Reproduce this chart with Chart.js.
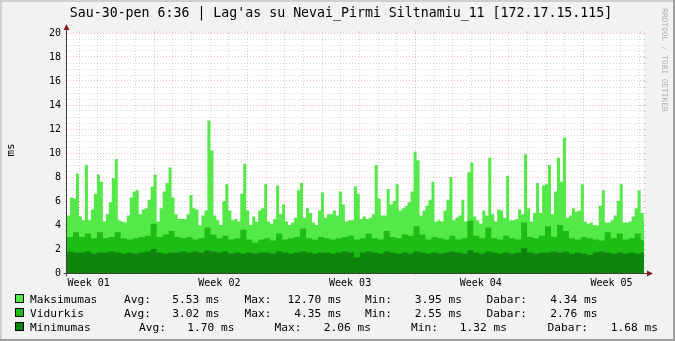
<!DOCTYPE html>
<html>
<head>
<meta charset="utf-8">
<script src="https://cdn.jsdelivr.net/npm/chart.js@4.4.0/dist/chart.umd.min.js"></script>
<style>
    html, body { margin: 0; padding: 0; background: #f2f2f2; }
    canvas { display: block; }
</style>
</head>
<body>
<canvas id="rrdChart" width="675" height="341"></canvas>
<script>
// Lag'as (ms), one value per time step
const maksimumas = [
    4.8, 6.3, 6.2, 8.3, 4.7, 4.4, 9.0, 4.4, 5.3, 6.6, 8.2, 7.6, 4.3, 4.9, 5.9, 7.9, 9.5, 4.4,
    4.3, 4.2, 4.8, 6.3, 6.8, 6.9, 4.9, 5.3, 5.4, 6.1, 7.2, 8.2, 4.3, 5.4, 6.8, 7.5, 8.8, 6.3, 4.9, 4.5, 4.5,
    4.5, 4.9, 6.5, 5.4, 5.3, 3.95, 4.8, 5.2, 12.7, 10.2, 4.8, 4.4, 4.0, 6.0, 7.4, 5.2, 4.4, 4.5, 4.3, 6.6,
    9.1, 5.2, 4.0, 4.7, 4.3, 5.2, 5.4, 7.4, 4.3, 4.1, 4.5, 7.3, 4.9, 5.7, 4.3, 4.0, 4.2, 4.6, 6.9,
    7.5, 4.6, 5.4, 5.0, 4.2, 4.0, 5.2, 6.7, 4.6, 4.9, 4.9, 5.2, 4.8, 6.8, 5.7, 4.3, 4.4, 4.4, 7.2, 6.6,
    4.5, 4.7, 4.5, 4.6, 4.9, 9.0, 6.2, 4.8, 4.8, 7.0, 5.7, 6.0, 7.4, 5.2, 5.4, 5.6, 5.9, 6.8, 10.1,
    9.4, 4.8, 5.2, 5.6, 6.1, 7.6, 4.3, 4.4, 4.3, 5.2, 6.1, 8.0, 4.4, 4.6, 4.8, 6.1, 4.3, 8.4, 9.2, 4.7,
    4.4, 4.1, 5.2, 4.8, 9.6, 4.9, 4.3, 5.3, 5.2, 4.6, 8.1, 4.4, 4.4, 4.5, 5.3, 4.9, 9.9, 5.4, 4.3,
    5.0, 7.5, 5.0, 7.3, 7.4, 9.0, 4.9, 6.8, 9.6, 7.6, 11.3, 4.6, 4.8, 5.4, 5.1, 5.2, 7.4, 4.3, 4.1,
    4.2, 4.0, 3.95, 5.6, 6.9, 4.2, 4.2, 4.4, 4.8, 6.0, 7.4, 4.2, 4.2, 4.3, 4.7, 5.4, 6.9, 5.0, 4.34
];

const vidurkis = [
    3.0, 3.4, 3.0, 3.3, 2.9, 3.4, 2.9, 3.0, 3.4, 2.9,
    2.8, 2.9, 3.0, 3.1, 4.1, 3.0, 3.2, 3.5, 3.0, 2.9,
    3.0, 2.8, 2.9, 3.8, 3.2, 2.9, 3.1, 2.8, 2.9, 3.6,
    2.8, 2.55, 2.8, 2.9, 2.7, 3.3, 2.8, 2.9, 3.0, 3.7,
    2.9, 2.8, 3.0, 2.9, 2.8, 2.9, 3.0, 3.1, 2.8, 2.9,
    3.3, 2.9, 2.8, 3.5, 3.0, 2.9, 3.2, 3.1, 3.9, 3.2,
    2.8, 3.0, 2.9, 2.8, 3.1, 2.8, 2.9, 4.35, 3.1, 2.9,
    3.8, 2.9, 2.8, 3.1, 2.9, 2.8, 4.2, 3.0, 2.9, 3.1,
    3.9, 3.0, 4.0, 3.5, 2.9, 2.8, 3.0, 2.9, 2.8, 2.7,
    3.4, 2.9, 3.3, 2.8, 2.9, 3.3, 2.76
];

const minimumas = [
    1.8, 1.7, 1.7, 1.8, 1.6, 1.7, 1.7, 1.8, 1.7, 1.6,
    1.7, 1.6, 1.7, 1.8, 2.0, 1.7, 1.6, 1.7, 1.7, 1.8,
    1.7, 1.8, 1.7, 1.9, 1.8, 1.7, 1.8, 1.6, 1.7, 1.6,
    1.7, 1.6, 1.7, 1.7, 1.6, 1.8, 1.7, 1.6, 1.7, 1.8,
    1.7, 1.6, 1.7, 1.7, 1.6, 1.7, 1.8, 1.7, 1.32, 1.7,
    1.8, 1.7, 1.6, 1.8, 1.7, 1.6, 1.7, 1.6, 1.8, 1.7,
    1.6, 1.7, 1.6, 1.7, 1.8, 1.7, 1.6, 1.9, 1.7, 1.6,
    1.8, 1.7, 1.6, 1.7, 1.6, 1.7, 2.06, 1.7, 1.6, 1.7,
    1.7, 1.8, 1.7, 1.8, 1.6, 1.7, 1.6, 1.5, 1.7, 1.8,
    1.7, 1.6, 1.7, 1.6, 1.7, 1.6, 1.68
];

const weekLabels = ['Week 01', 'Week 02', 'Week 03', 'Week 04', 'Week 05'];

const legendNames = ['Maksimumas', 'Vidurkis', 'Minimumas'];
const legendAvg = ['5.53', '3.02', '1.70'];
const legendMax = ['12.70', '4.35', '2.06'];
const legendMin = ['3.95', '2.55', '1.32'];
const legendNow = ['4.34', '2.76', '1.68'];

const TITLE = "Sau-30-pen 6:36 | Lag'as su Nevai_Pirmi Siltnamiu_11 [172.17.15.115]";

// x axis is in days since graph start
const X_MAX = 30.9;
const FAST_STEP = 0.16;     // maksimumas step
const SLOW_STEP = 0.32;     // vidurkis / minimumas step
const FIRST_MONDAY = 4.66;  // first week boundary

const COLORS = ['#54E848', '#1EBD16', '#0E860E'];
const GRID_MINOR = 'rgba(143,143,143,0.32)';
const GRID_MAJOR = 'rgba(222,79,79,0.38)';
const MONO = '"DejaVu Sans Mono", monospace';

function toSteps(values, step) {
    const pts = [];
    values.forEach(function(v, i) {
        pts.push({x: i * step, y: v});
        pts.push({x: (i + 1) * step, y: v});
    });
    return pts;
}

function isWeekLine(d) {
    const r = ((d - FIRST_MONDAY) % 7 + 7) % 7;
    return r < 0.01 || r > 6.99;
}

function areaSet(label, values, step, color) {
    return {
        label: label,
        data: toSteps(values, step),
        backgroundColor: color,
        borderColor: 'rgba(0,0,0,0)',
        borderWidth: 0,
        fill: 'origin',
        pointRadius: 0,
        tension: 0
    };
}

const rrdDecor = {
    id: 'rrdDecor',
    beforeDraw(chart) {
        const ctx = chart.ctx;
        const a = chart.chartArea;
        ctx.save();
        ctx.fillStyle = '#f2f2f2';
        ctx.fillRect(0, 0, 675, 341);
        ctx.fillStyle = '#cfcfcf';
        ctx.fillRect(0, 0, 675, 2);
        ctx.fillRect(0, 0, 2, 341);
        ctx.fillStyle = '#9e9e9e';
        ctx.fillRect(673, 0, 2, 341);
        ctx.fillRect(0, 339, 675, 2);
        ctx.fillStyle = '#ffffff';
        ctx.fillRect(a.left, a.top, a.right - a.left, a.bottom - a.top);
        ctx.restore();
    },
    afterDraw(chart) {
        const ctx = chart.ctx;
        const a = chart.chartArea;
        const xs = chart.scales.x;
        const ys = chart.scales.y;
        ctx.save();

        // small solid tick stubs at grid ends
        ctx.lineWidth = 1;
        ys.ticks.forEach(function(t) {
            const y = Math.round(ys.getPixelForValue(t.value)) + 0.5;
            ctx.strokeStyle = t.value % 2 === 0 ? GRID_MAJOR : GRID_MINOR;
            ctx.beginPath();
            ctx.moveTo(a.left - 2, y); ctx.lineTo(a.left, y);
            ctx.moveTo(a.right, y); ctx.lineTo(a.right + 2, y);
            ctx.stroke();
        });
        xs.ticks.forEach(function(t) {
            const x = Math.round(xs.getPixelForValue(t.value)) + 0.5;
            ctx.strokeStyle = isWeekLine(t.value) ? GRID_MAJOR : GRID_MINOR;
            ctx.beginPath();
            ctx.moveTo(x, a.bottom); ctx.lineTo(x, a.bottom + 2);
            ctx.moveTo(x, a.top - 2); ctx.lineTo(x, a.top);
            ctx.stroke();
        });

        // axes
        const x0 = Math.round(a.left) - 0.5;
        const y0 = Math.round(a.bottom) + 0.5;
        ctx.strokeStyle = '#404040';
        ctx.beginPath();
        ctx.moveTo(x0, y0 + 3); ctx.lineTo(x0, a.top - 4);
        ctx.moveTo(x0 - 3, y0); ctx.lineTo(a.right + 4, y0);
        ctx.stroke();

        // arrows
        ctx.fillStyle = '#801f1f';
        ctx.beginPath();
        ctx.moveTo(x0 - 3, a.top - 3);
        ctx.lineTo(x0 + 3, a.top - 3);
        ctx.lineTo(x0, a.top - 9);
        ctx.closePath();
        ctx.fill();
        ctx.beginPath();
        ctx.moveTo(a.right + 3, y0 - 3);
        ctx.lineTo(a.right + 3, y0 + 3);
        ctx.lineTo(a.right + 9, y0);
        ctx.closePath();
        ctx.fill();

        // title
        ctx.fillStyle = '#000';
        ctx.font = '13.25px ' + MONO;
        ctx.textAlign = 'center';
        ctx.textBaseline = 'alphabetic';
        ctx.fillText(TITLE, 341, 17);

        // week labels
        ctx.font = '10px ' + MONO;
        weekLabels.forEach(function(lbl, i) {
            const d = FIRST_MONDAY + 7 * i - 3.5;
            ctx.fillText(lbl, xs.getPixelForValue(d), 286);
        });

        // unit label
        ctx.save();
        ctx.translate(14, 150);
        ctx.rotate(-Math.PI / 2);
        ctx.font = '11px ' + MONO;
        ctx.fillText('ms', 0, 0);
        ctx.restore();

        // watermark
        ctx.save();
        ctx.translate(662, 60);
        ctx.rotate(Math.PI / 2);
        ctx.fillStyle = 'rgba(0,0,0,0.3)';
        ctx.font = '7.8px ' + MONO;
        ctx.fillText('RRDTOOL / TOBI OETIKER', 0, 0);
        ctx.restore();

        // legend
        const rowY = [303, 317, 331];
        const labelX = [[124, 244.5, 365, 486.5], [124, 244.5, 365, 486.5], [139, 274.5, 411, 547.5]];
        const valueEnd = [[219.5, 341.5, 462, 597.5], [219.5, 341.5, 462, 597.5], [234.5, 371, 507, 658]];
        const labels = ['Avg:', 'Max:', 'Min:', 'Dabar:'];
        ctx.font = '11.2px ' + MONO;
        legendNames.forEach(function(name, r) {
            const y = rowY[r];
            ctx.fillStyle = COLORS[r];
            ctx.fillRect(15.5, y - 8.5, 8, 8);
            ctx.strokeStyle = '#000';
            ctx.strokeRect(15.5, y - 8.5, 8, 8);
            ctx.fillStyle = '#000';
            ctx.textAlign = 'left';
            ctx.fillText(name, 30, y);
            const vals = [legendAvg[r], legendMax[r], legendMin[r], legendNow[r]];
            labels.forEach(function(l, k) {
                ctx.textAlign = 'left';
                ctx.fillText(l, labelX[r][k], y);
                ctx.textAlign = 'right';
                ctx.fillText(vals[k] + ' ms', valueEnd[r][k], y);
            });
        });
        ctx.restore();
    }
};

const myChart = new Chart(document.getElementById('rrdChart'), {
    type: 'line',
    data: {
        datasets: [
            areaSet('Minimumas', minimumas, SLOW_STEP, COLORS[2]),
            areaSet('Vidurkis', vidurkis, SLOW_STEP, COLORS[1]),
            areaSet('Maksimumas', maksimumas, FAST_STEP, COLORS[0])
        ]
    },
    options: {
        responsive: false,
        animation: false,
        devicePixelRatio: 1,
        layout: {padding: {left: 0, top: 33, right: 31, bottom: 68}},
        plugins: {legend: {display: false}, tooltip: {enabled: false}},
        scales: {
            x: {
                type: 'linear',
                min: 0,
                max: X_MAX,
                z: 1,
                ticks: {display: false},
                grid: {
                    drawTicks: false,
                    color: function(c) { return isWeekLine(c.tick.value) ? GRID_MAJOR : GRID_MINOR; }
                },
                border: {display: false, dash: [1, 2]},
                afterBuildTicks: function(scale) {
                    const t = [];
                    for (let d = FIRST_MONDAY % 1; d < X_MAX; d += 1) t.push({value: d});
                    scale.ticks = t;
                },
                afterFit: function(scale) { scale.height = 0; }
            },
            y: {
                type: 'linear',
                min: 0,
                max: 20,
                z: 1,
                ticks: {
                    autoSkip: false,
                    padding: 6,
                    color: '#000',
                    font: {family: MONO, size: 10},
                    callback: function(v) { return v % 2 === 0 ? String(v) : ''; }
                },
                grid: {
                    drawTicks: false,
                    color: function(c) { return c.tick.value % 2 === 0 ? GRID_MAJOR : GRID_MINOR; }
                },
                border: {display: false, dash: [1, 2]},
                afterBuildTicks: function(scale) {
                    const t = [];
                    for (let k = 0; k <= 40; k++) t.push({value: k / 2});
                    scale.ticks = t;
                },
                afterFit: function(scale) { scale.width = 67; }
            }
        }
    },
    plugins: [rrdDecor]
});
</script>
</body>
</html>
